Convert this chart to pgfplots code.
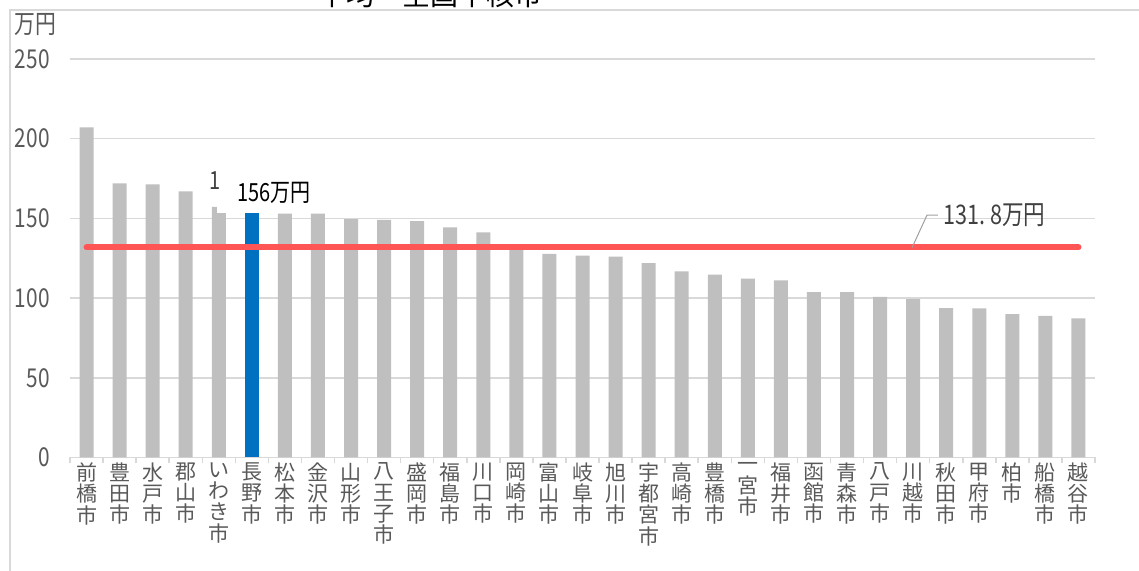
\documentclass[border=0pt]{standalone}
\usepackage{fontspec}
\setmainfont{Noto Sans CJK JP}
\newfontfamily\numfont{Noto Sans CJK JP}[FakeStretch=0.8]
\usepackage{pgfplots}
\pgfplotsset{compat=1.18}
\definecolor{barGray}{RGB}{191,191,191}
\definecolor{barBlue}{RGB}{0,112,192}
\definecolor{gridGray}{RGB}{217,217,217}
\definecolor{txtGray}{RGB}{89,89,89}
\definecolor{lblGray}{RGB}{64,64,64}
\definecolor{avgRed}{RGB}{255,85,85}

\begin{document}
\begin{tikzpicture}[x=1pt,y=1pt]
\path[use as bounding box, clip] (0,0) rectangle (569.5,285.5);
% chart frame
\draw[gridGray, line width=0.75pt] (5,-2) -- (5,280.5) -- (575,280.5);
% title
\node[anchor=south, inner sep=0pt, font=\fontsize{14}{14}\selectfont] at (215,281.3) {平均・全国中核市};
% unit
\node[anchor=north west, inner sep=0pt, text=txtGray, font=\numfont\fontsize{13}{13}\selectfont] at (7,279) {万円};

\begin{axis}[
  at={(35pt,56.75pt)}, anchor=south west, scale only axis,
  width=512.5pt, height=199.25pt,
  xmin=-0.5, xmax=30.5, ymin=0, ymax=250,
  axis x line*=bottom, axis y line*=left,
  x axis line style={gridGray, line width=0.75pt, -},
  y axis line style={draw=none},
  ymajorgrids, grid style={gridGray, line width=0.75pt},
  ytick={0,50,...,250},
  /pgf/number format/assume math mode=true,
  yticklabel style={font=\numfont\fontsize{13}{13}\selectfont, text=txtGray, inner sep=0pt, xshift=-10pt},
  xtick={0,...,30},
  minor xtick={-0.5,0.5,...,30.5},
  major tick length=0pt, minor tick length=3pt,
  xtick align=outside,
  tick style={gridGray, line width=0.75pt},
  xticklabel style={font=\fontsize{10.5}{10.6}\selectfont, text=txtGray, align=center, anchor=north, inner sep=0pt, yshift=-2.5pt},
  xticklabels={{前\\橋\\市},{豊\\田\\市},{水\\戸\\市},{郡\\山\\市},{い\\わ\\き\\市},{長\\野\\市},{松\\本\\市},{金\\沢\\市},{山\\形\\市},{八\\王\\子\\市},{盛\\岡\\市},{福\\島\\市},{川\\口\\市},{岡\\崎\\市},{富\\山\\市},{岐\\阜\\市},{旭\\川\\市},{宇\\都\\宮\\市},{高\\崎\\市},{豊\\橋\\市},{一\\宮\\市},{福\\井\\市},{函\\館\\市},{青\\森\\市},{八\\戸\\市},{川\\越\\市},{秋\\田\\市},{甲\\府\\市},{柏\\市},{船\\橋\\市},{越\\谷\\市}},
  clip=false,
]
% other cities
\addplot[ybar, bar width=7pt, bar shift=0pt, fill=barGray, draw=none] coordinates {
  (0,207.1) (1,171.9) (2,171.3) (3,166.9) (4,157.3)
  (6,153.0) (7,153.0) (8,149.6) (9,149.0) (10,148.3)
  (11,144.4) (12,141.3) (13,131.0) (14,127.8) (15,126.7)
  (16,126.0) (17,122.0) (18,116.8) (19,114.7) (20,112.2)
  (21,111.1) (22,103.8) (23,103.8) (24,100.8) (25,99.4)
  (26,93.7) (27,93.5) (28,89.9) (29,88.9) (30,87.2)
};
% Nagano
\addplot[ybar, bar width=7pt, bar shift=0pt, fill=barBlue, draw=none] coordinates {(5,156)};
% average of core cities
\addplot[avgRed, line width=3pt, line cap=round] coordinates {(0,131.8) (30,131.8)};

% data labels (the Nagano label box sits over the neighbouring label)
\fill[white] (axis cs:3.94,153.2) rectangle (axis cs:7.36,179.3);
\node[anchor=east, inner sep=0pt, text=lblGray, font=\numfont\fontsize{12.5}{12.5}\selectfont] at (axis cs:4.08,173.5) {1};
\node[inner sep=0pt, text=black, font=\numfont\fontsize{12.5}{12.5}\selectfont] at (axis cs:5.66,166.2) {156万円};

\draw[gray!75, line width=0.5pt] (axis cs:24.97,131.8) -- (axis cs:25.42,152.1) -- (axis cs:25.75,152.1);
\node[anchor=west, inner sep=0pt, text=lblGray, font=\numfont\fontsize{13.5}{13.5}\selectfont] at (axis cs:25.9,152.1) {131.\kern2.5pt8万円};
\end{axis}
\end{tikzpicture}
\end{document}
